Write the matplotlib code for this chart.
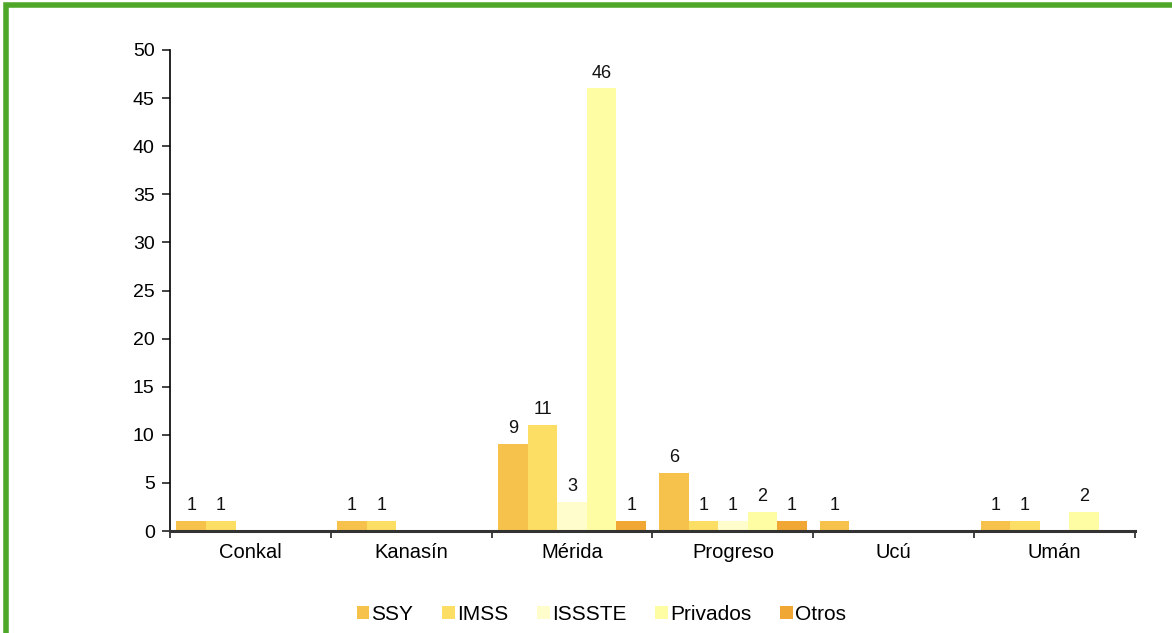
import matplotlib
matplotlib.use("Agg")
import matplotlib.pyplot as plt
import numpy as np
from matplotlib.patches import Rectangle

plt.rcParams['font.family'] = ['Liberation Sans', 'DejaVu Sans']

categories = ["Conkal", "Kanasín", "Mérida", "Progreso", "Ucú", "Umán"]
series_names = ["SSY", "IMSS", "ISSSTE", "Privados", "Otros"]
ssy = [1, 1, 9, 6, 1, 1]
imss = [1, 1, 11, 1, 0, 1]
issste = [0, 0, 3, 1, 0, 0]
privados = [0, 0, 46, 2, 0, 2]
otros = [0, 0, 1, 1, 0, 0]
series = [ssy, imss, issste, privados, otros]
colors = ["#F6C24B", "#FBDE63", "#FFFDCC", "#FFFDA4", "#F1A733"]
y_ticks = [0, 5, 10, 15, 20, 25, 30, 35, 40, 45, 50]

fig = plt.figure(figsize=(11.72, 6.33), dpi=100)
ax = fig.add_axes([170/1172, 1-531/633, (1135-170)/1172, (531-50)/633])

n = len(series)
bw = 0.184
x = np.arange(len(categories))
for i, (vals, col, name) in enumerate(zip(series, colors, series_names)):
    pos = x + (i - (n - 1) / 2) * bw
    bars = ax.bar(pos, vals, width=bw, color=col, label=name, edgecolor='none')
    for b, v in zip(bars, vals):
        if v > 0:
            ax.annotate(str(v), (b.get_x() + b.get_width()/2, v), xytext=(0, 5),
                        textcoords='offset points', ha='center', va='bottom',
                        fontsize=13, color='#111111')

ax.set_xlim(-0.5, len(categories) - 0.5)
ax.set_ylim(0, 50)
ax.set_yticks(y_ticks)
ax.set_xticks(np.arange(len(categories) + 1) - 0.5)
ax.set_xticklabels([])
ax.set_xticks(x, minor=True)
ax.set_xticklabels(categories, minor=True)
ax.tick_params(axis='x', which='minor', length=0, pad=9, labelsize=14.5)
ax.tick_params(axis='x', which='major', length=5, width=1.2, color='#222222')
ax.tick_params(axis='y', length=6, width=1.2, labelsize=14, pad=5, color='#222222')
for s in ['top', 'right']:
    ax.spines[s].set_visible(False)
ax.spines['left'].set_linewidth(1.2)
ax.spines['bottom'].set_linewidth(2.2)
ax.spines['bottom'].set_color('#333333')

leg = fig.legend(loc='center', bbox_to_anchor=(0.513, 1-614/633), ncol=5,
                 frameon=False, fontsize=15, handlelength=0.6, handleheight=0.6,
                 handletextpad=0.1, columnspacing=1.4)

fig.patches.append(Rectangle((6/1172, -0.1), 1.2, 1 - 5/633 + 0.1,
                             transform=fig.transFigure, fill=False,
                             edgecolor='#4FA72A', linewidth=4, zorder=10))

fig.savefig("out.png", dpi=100)
